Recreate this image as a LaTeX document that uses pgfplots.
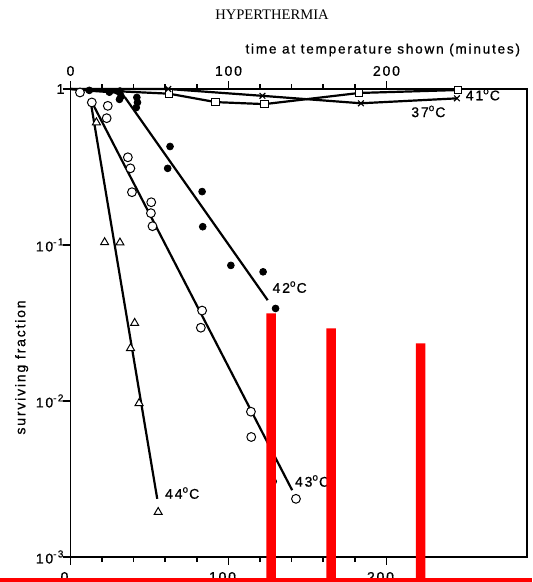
\documentclass[border=0pt]{standalone}
\usepackage{fontspec}
\usepackage{pgfplots}
\usepackage{pgfplotstable}
\pgfplotsset{compat=1.18}
\setmainfont{Liberation Serif}
\newfontfamily\lbl[LetterSpace=13, FakeBold=0.8]{Liberation Sans}
\definecolor{scanred}{RGB}{255,0,0}

% surviving fraction against time (min)
\pgfplotstableread{
t s
16.4 0.61
21.6 0.104
31.3 0.1035
40.6 0.0316
38.0 0.0218
43.4 0.00968
55.5 0.00194
}\tempfourfour
\pgfplotstableread{
t s
6.0 0.95
13.5 0.82
23.6 0.78
22.9 0.65
36.3 0.365
37.9 0.31
38.9 0.218
51.1 0.188
50.9 0.16
51.9 0.132
83.3 0.038
82.5 0.0295
114.2 0.00854
114.4 0.00588
127.6 0.00305
142.7 0.00236
}\tempfourthree
\pgfplotstableread{
t s
11.9 0.98
24.6 0.954
31.3 0.97
32.0 0.90
31.0 0.858
42.0 0.883
42.4 0.82
41.6 0.76
63.0 0.428
61.5 0.31
83.3 0.22
83.7 0.131
101.5 0.074
121.9 0.0673
129.8 0.0392
}\tempfourtwo
\pgfplotstableread{
t s
62.4 0.933
91.9 0.824
122.8 0.80
182.7 0.943
245.3 0.985
}\tempfourone
\pgfplotstableread{
t s
61.9 1.0
121.5 0.904
183.8 0.81
244.6 0.871
}\tempthreeseven

\begin{document}
\begin{tikzpicture}[x=1pt,y=1pt]
\useasboundingbox (0,0) rectangle (266,291);
\node[font=\rmfamily\fontsize{7.3}{8}\selectfont] at (136,283.5) {HYPERTHERMIA};
\begin{axis}[
  at={(35.25pt,12.5pt)}, anchor=south west,
  scale only axis, width=228.3pt, height=234pt,
  ymode=log, xmin=0, xmax=289, ymin=1e-3, ymax=1,
  axis line style={line width=0.9pt},
  tick align=outside,
  major tick length=4pt, minor tick length=2.5pt,
  every tick/.style={black, line width=0.8pt},
  xtick={0,100,200}, xticklabels={0,100,200}, minor x tick num=4,
  xticklabel pos=upper,
  xticklabel style={yshift=-1pt},
  ytick={1e-3,1e-2,1e-1,1},
  yticklabels={10\textsuperscript{-3},10\textsuperscript{-2},10\textsuperscript{-1},1},
  ytick pos=left, yminorticks=false,
  yticklabel style={xshift=4.5pt},
  ticklabel style={font=\lbl\fontsize{7}{8}\selectfont},
  xlabel={time at temperature shown (minutes)},
  xlabel style={at={(axis description cs:1,1)}, anchor=east, yshift=19.5pt,
    font=\lbl\fontsize{6.8}{8}\selectfont},
  ylabel={surviving fraction},
  ylabel style={at={(axis description cs:-0.107,0.405)}, anchor=center,
    font=\lbl\fontsize{7}{8}\selectfont},
  clip=false,
]
% fitted lines
\addplot[black, line width=1.1pt] coordinates {(13.1,0.79) (54.9,0.00236)};
\addplot[black, line width=1.1pt] coordinates {(13.7,0.817) (140.3,0.00268)};
\addplot[black, line width=1.1pt] coordinates {(0,1) (12,0.975) (28,0.95) (34.6,0.88) (124.8,0.0443)};
\addplot[black, line width=1.1pt] coordinates {(0,1) (62.4,0.933) (91.9,0.824) (122.8,0.80) (182.7,0.943) (245.3,0.985)};
\addplot[black, line width=1.1pt] coordinates {(0,1) (61.9,1.0) (121.5,0.904) (183.8,0.81) (244.6,0.871)};
% points
\addplot[only marks, mark=triangle*, mark size=2.3pt, mark options={fill=white, draw=black, line width=0.5pt}] table[x=t, y=s] {\tempfourfour};
\addplot[only marks, mark=*, mark size=2.2pt, mark options={fill=white, draw=black, line width=0.5pt}] table[x=t, y=s] {\tempfourthree};
\addplot[only marks, mark=*, mark size=1.7pt, mark options={fill=black, draw=black}] table[x=t, y=s] {\tempfourtwo};
\addplot[only marks, mark=square*, mark size=1.9pt, mark options={fill=white, draw=black, line width=0.5pt}] table[x=t, y=s] {\tempfourone};
\addplot[only marks, mark=x, mark size=2pt, mark options={draw=black, line width=0.6pt}] table[x=t, y=s] {\tempthreeseven};
% curve labels
\begin{scope}[font=\lbl\fontsize{7}{8}\selectfont]
\node at (axis cs:261,0.92) {41\textsuperscript{o}C};
\node at (axis cs:226.5,0.718) {37\textsuperscript{o}C};
\node at (axis cs:138.7,0.0537) {42\textsuperscript{o}C};
\node at (axis cs:152.9,0.00307) {43\textsuperscript{o}C};
\node at (axis cs:70.7,0.00257) {44\textsuperscript{o}C};
\end{scope}
\end{axis}
% tick labels under the lower axis (mostly cut off in the scan)
\begin{axis}[
  at={(32.25pt,12.5pt)}, anchor=south west,
  scale only axis, width=228.3pt, height=234pt,
  xmin=0, xmax=289, ymin=0, ymax=1,
  axis line style={draw=none},
  xtick={0,100,200}, xticklabels={0,100,200}, xtick style={draw=none},
  xticklabel pos=lower, ytick=\empty,
  ticklabel style={font=\lbl\fontsize{7}{8}\selectfont},
  xticklabel style={yshift=-4pt},
]
\addplot[draw=none] coordinates {(0,0.5)};
\end{axis}
% red marks laid over the scan
\begin{axis}[
  at={(0pt,0pt)}, anchor=south west,
  scale only axis, width=266pt, height=291pt,
  xmin=0, xmax=532, ymin=0, ymax=582,
  hide axis, clip=false,
]
\addplot[ybar, bar width=4.75pt, fill=scanred, draw=none] coordinates {(271.2,268.7) (331,253.7) (420.7,238.7)};
\addplot[scanred, line width=2pt] coordinates {(0,2) (532,2)};
\end{axis}
\end{tikzpicture}
\end{document}
